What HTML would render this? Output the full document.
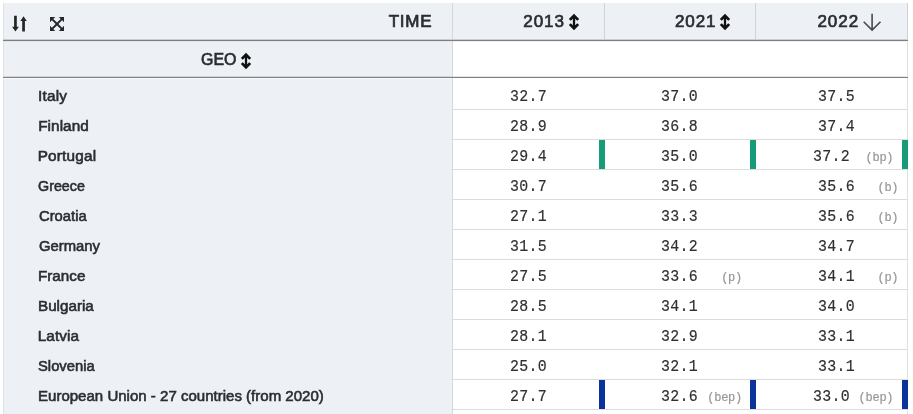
<!DOCTYPE html><html lang="en"><head><meta charset="utf-8"><title>Table</title><style>
*{box-sizing:border-box;margin:0;padding:0}
html,body{width:913px;height:414px;overflow:hidden;background:#fff}
body{position:relative;font-family:"Liberation Sans",sans-serif;color:#2b2d31}
.abs{position:absolute}
.hbg{background:#edf0f4}
.lbl{position:absolute;font-size:15.3px;line-height:30px;height:30px;white-space:nowrap;-webkit-text-stroke:0.6px #2b2d31}
.num{position:absolute;font-family:"Liberation Mono","DejaVu Sans Mono",monospace;font-size:16px;line-height:30px;height:30px;color:#303030;white-space:pre;letter-spacing:0.3px;-webkit-text-stroke:0.18px #303030;transform:scaleX(0.93);transform-origin:0 50%}
.flag{position:absolute;font-family:"Liberation Mono","DejaVu Sans Mono",monospace;font-size:12px;line-height:30px;height:30px;color:#979797;white-space:pre;letter-spacing:-0.25px;-webkit-text-stroke:0.2px #979797}
.hl{position:absolute;height:1px;background:#dcdcdc}
.hd{position:absolute;font-size:17px;line-height:36px;height:36px;white-space:nowrap;-webkit-text-stroke:0.7px #2b2d31}
.bar{position:absolute;width:6px;height:29px}
</style></head><body>
<div class="abs hbg" style="left:3px;top:3px;width:905px;height:37px"></div>
<div class="abs hbg" style="left:3px;top:39px;width:449.5px;height:375px"></div>
<div class="abs" style="left:3px;top:3px;width:1px;height:411px;background:#dfe2e6"></div>
<div class="abs" style="left:907px;top:41px;width:1px;height:373px;background:#e0e0e0"></div>
<div class="abs" style="left:907px;top:3px;width:1px;height:37px;background:#d0d3d7"></div>
<div class="abs" style="left:452px;top:3px;width:1px;height:411px;background:#d4d7db"></div>
<div class="abs" style="left:603.8px;top:3px;width:1px;height:36px;background:#cfd2d6"></div>
<div class="abs" style="left:754.6px;top:3px;width:1px;height:36px;background:#cfd2d6"></div>
<div class="abs" style="left:3px;top:39px;width:905px;height:1px;background:#c9ccd0"></div>
<div class="abs" style="left:3px;top:40px;width:905px;height:1px;background:#7c7e81"></div>
<div class="abs" style="left:453px;top:41px;width:455px;height:1px;background:#f1f1f1"></div>
<div class="abs" style="left:3px;top:41px;width:449px;height:1px;background:#e3e6ea"></div>
<div class="abs" style="left:3px;top:76px;width:449px;height:1px;background:#d3d6da"></div>
<div class="abs" style="left:453px;top:76px;width:455px;height:1px;background:#e6e6e6"></div>
<div class="abs" style="left:3px;top:77px;width:905px;height:1px;background:#808080"></div>
<div class="abs" style="left:3px;top:78px;width:449px;height:1px;background:#fafbfc"></div>
<div class="hl" style="left:453px;top:109px;width:454.8px"></div>
<div class="hl" style="left:453px;top:139px;width:454.8px"></div>
<div class="hl" style="left:453px;top:169px;width:454.8px"></div>
<div class="hl" style="left:453px;top:199px;width:454.8px"></div>
<div class="hl" style="left:453px;top:229px;width:454.8px"></div>
<div class="hl" style="left:453px;top:259px;width:454.8px"></div>
<div class="hl" style="left:453px;top:289px;width:454.8px"></div>
<div class="hl" style="left:453px;top:319px;width:454.8px"></div>
<div class="hl" style="left:453px;top:349px;width:454.8px"></div>
<div class="hl" style="left:453px;top:379px;width:454.8px"></div>
<div class="hl" style="left:453px;top:409px;width:454.8px"></div>
<div class="hd" style="left:388.79px;top:3.8px;letter-spacing:0.692px;">TIME</div>
<div class="hd" style="left:523.23px;top:3.8px;letter-spacing:0.997px;">2013</div>
<div class="hd" style="left:674.95px;top:3.8px;letter-spacing:0.934px;">2021</div>
<div class="hd" style="left:817.40px;top:3.8px;letter-spacing:0.988px;">2022</div>
<div class="hd" style="left:201.03px;top:41.8px;letter-spacing:0.000px;transform:scaleX(0.9370);transform-origin:0 50%;">GEO</div>
<svg class="abs" style="left:567.0px;top:11.8px" width="14" height="20" viewBox="-7 -10 14 20"><path d="M-4.2 -2.1 L0 -6.3 L4.2 -2.1 M-4.2 2.1 L0 6.3 L4.2 2.1" fill="none" stroke="#111" stroke-width="2.7" stroke-linecap="butt" stroke-linejoin="miter"/><path d="M0 -6 V6" stroke="#111" stroke-width="2.3" fill="none"/></svg>
<svg class="abs" style="left:718.3px;top:11.8px" width="14" height="20" viewBox="-7 -10 14 20"><path d="M-4.2 -2.1 L0 -6.3 L4.2 -2.1 M-4.2 2.1 L0 6.3 L4.2 2.1" fill="none" stroke="#111" stroke-width="2.7" stroke-linecap="butt" stroke-linejoin="miter"/><path d="M0 -6 V6" stroke="#111" stroke-width="2.3" fill="none"/></svg>
<svg class="abs" style="left:239.0px;top:50.8px" width="14" height="20" viewBox="-7 -10 14 20"><path d="M-4.2 -2.1 L0 -6.3 L4.2 -2.1 M-4.2 2.1 L0 6.3 L4.2 2.1" fill="none" stroke="#111" stroke-width="2.7" stroke-linecap="butt" stroke-linejoin="miter"/><path d="M0 -6 V6" stroke="#111" stroke-width="2.3" fill="none"/></svg>
<svg class="abs" style="left:862px;top:12px" width="20" height="20" viewBox="862 12 20 20"><path d="M872.1 13.7 V30 M863.7 21.7 L872.1 30.1 L880.5 21.7" fill="none" stroke="#454b50" stroke-width="1.6"/></svg>
<svg class="abs" style="left:8px;top:12px" width="24" height="24" viewBox="8 12 24 24"><path d="M14.10 15.80 H16.80 V26.70 H18.85 L15.45 31.60 L12.05 26.70 H14.10 Z M22.20 31.50 H24.90 V20.90 H26.75 L23.55 16.30 L20.35 20.90 H22.20 Z" fill="#24262a"/></svg>
<svg class="abs" style="left:50px;top:16.9px" width="14" height="14" viewBox="0 0 15 15"><path d="M0 0 H5.6 L3.55 2.05 L7.5 6 L11.45 2.05 L9.4 0 H15 V5.6 L12.95 3.55 L9 7.5 L12.95 11.45 L15 9.4 V15 H9.4 L11.45 12.95 L7.5 9 L3.55 12.95 L5.6 15 H0 V9.4 L2.05 11.45 L6 7.5 L2.05 3.55 L0 5.6 Z" fill="#26282c"/></svg>
<div class="lbl" style="left:38.06px;top:80.5px;letter-spacing:0.200px;">Italy</div>
<div class="num" style="left:509.6px;top:82.1px">32.7</div>
<div class="num" style="left:661.2px;top:82.1px">37.0</div>
<div class="num" style="left:817.8px;top:82.1px">37.5</div>
<div class="lbl" style="left:38.22px;top:110.5px;letter-spacing:0.059px;">Finland</div>
<div class="num" style="left:509.6px;top:112.1px">28.9</div>
<div class="num" style="left:661.2px;top:112.1px">36.8</div>
<div class="num" style="left:817.8px;top:112.1px">37.4</div>
<div class="lbl" style="left:37.65px;top:140.5px;letter-spacing:0.210px;">Portugal</div>
<div class="num" style="left:509.6px;top:142.1px">29.4</div>
<div class="bar" style="left:599.0px;top:139.8px;background:#169c78"></div>
<div class="num" style="left:661.2px;top:142.1px">35.0</div>
<div class="bar" style="left:749.7px;top:139.8px;background:#169c78"></div>
<div class="num" style="left:812.8px;top:142.1px">37.2</div>
<div class="flag" style="right:19.7px;top:142.5px">(bp)</div>
<div class="bar" style="left:902.0px;top:139.8px;background:#169c78"></div>
<div class="lbl" style="left:38.20px;top:170.5px;letter-spacing:0.000px;transform:scaleX(0.9359);transform-origin:0 50%;">Greece</div>
<div class="num" style="left:509.6px;top:172.1px">30.7</div>
<div class="num" style="left:661.2px;top:172.1px">35.6</div>
<div class="num" style="left:817.8px;top:172.1px">35.6</div>
<div class="flag" style="right:14.7px;top:172.5px">(b)</div>
<div class="lbl" style="left:38.60px;top:200.5px;letter-spacing:0.000px;transform:scaleX(0.9679);transform-origin:0 50%;">Croatia</div>
<div class="num" style="left:509.6px;top:202.1px">27.1</div>
<div class="num" style="left:661.2px;top:202.1px">33.3</div>
<div class="num" style="left:817.8px;top:202.1px">35.6</div>
<div class="flag" style="right:14.7px;top:202.5px">(b)</div>
<div class="lbl" style="left:38.63px;top:230.5px;letter-spacing:0.000px;transform:scaleX(0.9703);transform-origin:0 50%;">Germany</div>
<div class="num" style="left:509.6px;top:232.1px">31.5</div>
<div class="num" style="left:661.2px;top:232.1px">34.2</div>
<div class="num" style="left:817.8px;top:232.1px">34.7</div>
<div class="lbl" style="left:37.50px;top:260.5px;letter-spacing:0.000px;transform:scaleX(0.9956);transform-origin:0 50%;">France</div>
<div class="num" style="left:509.6px;top:262.1px">27.5</div>
<div class="num" style="left:661.2px;top:262.1px">33.6</div>
<div class="flag" style="right:171.0px;top:262.5px">(p)</div>
<div class="num" style="left:817.8px;top:262.1px">34.1</div>
<div class="flag" style="right:14.7px;top:262.5px">(p)</div>
<div class="lbl" style="left:37.74px;top:290.5px;letter-spacing:0.000px;transform:scaleX(0.9946);transform-origin:0 50%;">Bulgaria</div>
<div class="num" style="left:509.6px;top:292.1px">28.5</div>
<div class="num" style="left:661.2px;top:292.1px">34.1</div>
<div class="num" style="left:817.8px;top:292.1px">34.0</div>
<div class="lbl" style="left:37.65px;top:320.5px;letter-spacing:0.117px;">Latvia</div>
<div class="num" style="left:509.6px;top:322.1px">28.1</div>
<div class="num" style="left:661.2px;top:322.1px">32.9</div>
<div class="num" style="left:817.8px;top:322.1px">33.1</div>
<div class="lbl" style="left:37.96px;top:350.5px;letter-spacing:0.000px;transform:scaleX(0.9657);transform-origin:0 50%;">Slovenia</div>
<div class="num" style="left:509.6px;top:352.1px">25.0</div>
<div class="num" style="left:661.2px;top:352.1px">32.1</div>
<div class="num" style="left:817.8px;top:352.1px">33.1</div>
<div class="lbl" style="left:37.70px;top:380.5px;letter-spacing:0.000px;transform:scaleX(0.9829);transform-origin:0 50%;">European Union - 27 countries (from 2020)</div>
<div class="num" style="left:509.6px;top:382.1px">27.7</div>
<div class="bar" style="left:599.0px;top:379.8px;background:#0b349b"></div>
<div class="num" style="left:661.2px;top:382.1px">32.6</div>
<div class="flag" style="right:171.0px;top:382.5px">(bep)</div>
<div class="bar" style="left:749.7px;top:379.8px;background:#0b349b"></div>
<div class="num" style="left:812.8px;top:382.1px">33.0</div>
<div class="flag" style="right:19.7px;top:382.5px">(bep)</div>
<div class="bar" style="left:902.0px;top:379.8px;background:#0b349b"></div>
</body></html>
